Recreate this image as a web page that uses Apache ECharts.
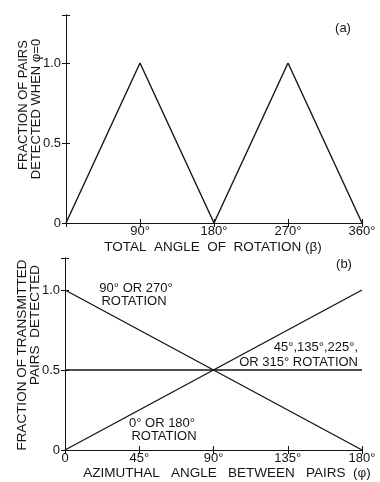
<!DOCTYPE html>
<html><head><meta charset="utf-8">
<script src="https://cdn.jsdelivr.net/npm/echarts@6/dist/echarts.min.js"></script>
<style>html,body{margin:0;padding:0;background:#fff}#c{width:380px;height:482px}</style>
</head><body><div id="c"></div>
<script>
// Panel (a)
const betaAngles = [0, 90, 180, 270, 360];
const fracDetected = [0, 1, 0, 1, 0];
const ticksA = [0, 90, 180, 270, 360];
// Panel (b)
const phiAngles = [0, 180];
const rot90 = [1, 0];
const rot0 = [0, 1];
const rot45 = [0.5, 0.5];
const ticksB = [0, 45, 90, 135, 180];
const yTicks = [0, 0.5, 1.0];

const FONT = '"Liberation Sans", Arial, sans-serif';
const INK = '#151515';
const axisLine = {lineStyle: {color: INK, width: 1}};
const yFmt = v => (v === 0 ? '0' : (v === 0.5 ? '0.5' : (v === 1 ? '1.0' : '')));

function xAxes(gi, max, interval, fmt) {
  return [
    {gridIndex: gi, type: 'value', min: 0, max: max, interval: interval, position: 'bottom',
     axisLine: axisLine, splitLine: {show: false},
     axisTick: {inside: true, length: 4, lineStyle: {color: INK}},
     axisLabel: {formatter: fmt, color: INK, fontFamily: FONT, fontSize: 13, margin: 2}},
    {gridIndex: gi, type: 'value', min: 0, max: max, interval: interval, position: 'top',
     axisLine: axisLine, splitLine: {show: false},
     axisTick: {inside: true, length: 4, lineStyle: {color: INK}},
     axisLabel: {show: false}}
  ];
}
function yAxes(gi, max) {
  return [
    {gridIndex: gi, type: 'value', min: 0, max: max, interval: 0.5, position: 'left',
     axisLine: axisLine, splitLine: {show: false},
     axisTick: {inside: true, length: 4, lineStyle: {color: INK}},
     axisLabel: {formatter: yFmt, color: INK, fontFamily: FONT, fontSize: 13, margin: 5}},
    {gridIndex: gi, type: 'value', min: 0, max: max, interval: 0.5, position: 'right',
     axisLine: axisLine, splitLine: {show: false},
     axisTick: {inside: true, length: 4, lineStyle: {color: INK}},
     axisLabel: {show: false}}
  ];
}
const toPairs = (xs, ys) => xs.map((x, i) => [x, ys[i]]);
const lineSeries = (xi, yi, data) => ({
  type: 'line', xAxisIndex: xi, yAxisIndex: yi, data: data, symbol: 'none',
  lineStyle: {color: INK, width: 1.4}, silent: true, animation: false
});
const txt = (x, y, text, opts) => Object.assign({type: 'text', x: x, y: y,
  style: Object.assign({text: text, fill: INK, font: '13px ' + FONT}, (opts && opts.style) || {})},
  (opts && opts.el) || {});
const vtxt = (x, y, text, size) => txt(x, y, text, {el: {rotation: Math.PI / 2},
  style: {align: 'center', verticalAlign: 'middle', font: size + 'px ' + FONT}});
const ctr = {align: 'center', verticalAlign: 'middle'};

const chart = echarts.init(document.getElementById('c'), null, {renderer: 'canvas'});
chart.setOption({
  animation: false,
  backgroundColor: '#fff',
  grid: [
    {left: 66, right: 18, top: 15, height: 208},
    {left: 65, right: 18, top: 258, height: 192}
  ],
  xAxis: [].concat(
    xAxes(0, 360, 90, v => (v === 0 ? '' : v + '°')),
    xAxes(1, 180, 45, v => (v === 0 ? '0' : v + '°'))
  ),
  yAxis: [].concat(yAxes(0, 1.3), yAxes(1, 1.2)),
  series: [
    lineSeries(0, 0, toPairs(betaAngles, fracDetected)),
    lineSeries(2, 2, toPairs(phiAngles, rot90)),
    lineSeries(2, 2, toPairs(phiAngles, rot0)),
    lineSeries(2, 2, toPairs(phiAngles, rot45))
  ],
  graphic: [
    txt(343, 28, '(a)', {style: Object.assign({font: '13px ' + FONT}, ctr)}),
    txt(344, 264, '(b)', {style: Object.assign({font: '13px ' + FONT}, ctr)}),
    txt(213, 247, 'TOTAL  ANGLE  OF  ROTATION (β)', {style: Object.assign({font: '13.5px ' + FONT}, ctr)}),
    txt(227, 473, 'AZIMUTHAL   ANGLE   BETWEEN   PAIRS  (φ)', {style: Object.assign({font: '13.5px ' + FONT}, ctr)}),
    vtxt(23, 105, 'FRACTION OF PAIRS', 13),
    vtxt(36, 109, 'DETECTED WHEN φ=0', 13),
    vtxt(22, 355, 'FRACTION OF TRANSMITTED', 13.5),
    vtxt(35, 325, 'PAIRS  DETECTED', 13.5),
    txt(136, 288, '90° OR 270°', {style: ctr}),
    txt(134, 301, 'ROTATION', {style: ctr}),
    txt(358, 347, '45°,135°,225°,', {style: {align: 'right', verticalAlign: 'middle'}}),
    txt(358, 362, 'OR 315° ROTATION', {style: {align: 'right', verticalAlign: 'middle'}}),
    txt(162, 423, '0° OR 180°', {style: ctr}),
    txt(164, 436, 'ROTATION', {style: ctr})
  ]
});
</script></body></html>
